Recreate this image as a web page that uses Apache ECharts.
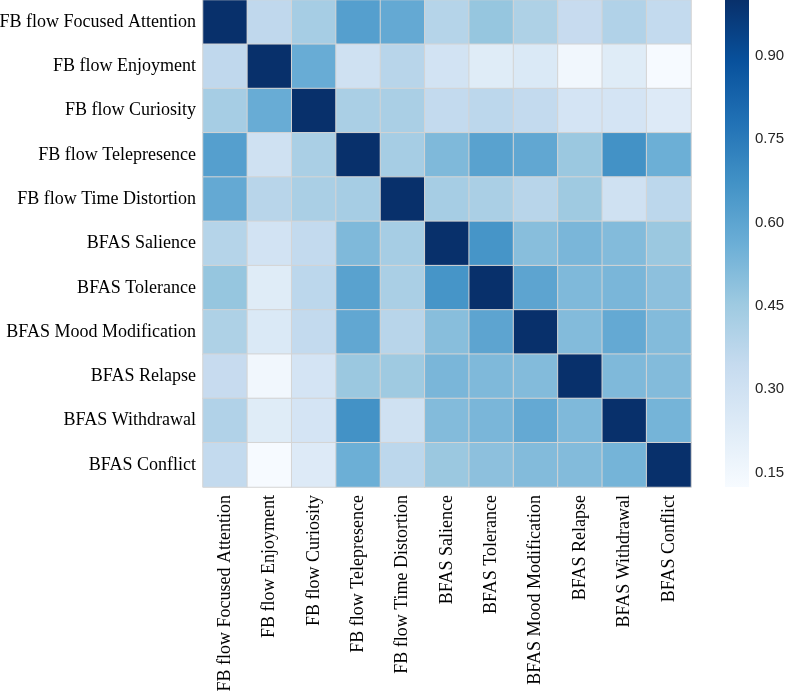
<!DOCTYPE html>
<html>
<head>
<meta charset="utf-8">
<script src="https://cdn.jsdelivr.net/npm/echarts@6/dist/echarts.min.js"></script>
<style>
html,body{margin:0;padding:0;background:#fff;}
#chart{width:785px;height:692px;}
</style>
</head>
<body>
<div id="chart"></div>
<script>
const categories = [
  'FB flow Focused Attention','FB flow Enjoyment','FB flow Curiosity','FB flow Telepresence',
  'FB flow Time Distortion','BFAS Salience','BFAS Tolerance','BFAS Mood Modification',
  'BFAS Relapse','BFAS Withdrawal','BFAS Conflict'
];
// correlation matrix rows
const rowFocused   = [1.00, 0.36, 0.43, 0.62, 0.58, 0.39, 0.47, 0.41, 0.34, 0.40, 0.35];
const rowEnjoy     = [0.36, 1.00, 0.57, 0.30, 0.38, 0.29, 0.23, 0.25, 0.15, 0.23, 0.13];
const rowCurio     = [0.43, 0.57, 1.00, 0.42, 0.42, 0.35, 0.37, 0.35, 0.28, 0.28, 0.24];
const rowTele      = [0.62, 0.30, 0.42, 1.00, 0.43, 0.52, 0.61, 0.59, 0.46, 0.67, 0.56];
const rowTime      = [0.58, 0.38, 0.42, 0.43, 1.00, 0.43, 0.42, 0.38, 0.45, 0.30, 0.37];
const rowSalience  = [0.39, 0.29, 0.35, 0.52, 0.43, 1.00, 0.66, 0.50, 0.53, 0.51, 0.46];
const rowTolerance = [0.47, 0.23, 0.37, 0.61, 0.42, 0.66, 1.00, 0.60, 0.52, 0.53, 0.49];
const rowMood      = [0.41, 0.25, 0.35, 0.59, 0.38, 0.50, 0.60, 1.00, 0.51, 0.58, 0.51];
const rowRelapse   = [0.34, 0.15, 0.28, 0.46, 0.45, 0.53, 0.52, 0.51, 1.00, 0.52, 0.51];
const rowWithdraw  = [0.40, 0.23, 0.28, 0.67, 0.30, 0.51, 0.53, 0.58, 0.52, 1.00, 0.54];
const rowConflict  = [0.35, 0.13, 0.24, 0.56, 0.37, 0.46, 0.49, 0.51, 0.51, 0.54, 1.00];
const matrix = [rowFocused,rowEnjoy,rowCurio,rowTele,rowTime,rowSalience,rowTolerance,rowMood,rowRelapse,rowWithdraw,rowConflict];

const colorbarTicks = [0.15, 0.30, 0.45, 0.60, 0.75, 0.90];
const vmin = 0.124, vmax = 1.0;

const blues = ['#f7fbff','#deebf7','#c6dbef','#9ecae1','#6baed6','#4292c6','#2171b5','#08519c','#08306b'];

const heatData = [];
matrix.forEach((row, r) => row.forEach((v, c) => heatData.push([c, r, v])));

const gradStops = blues.map((c, i) => ({offset: 1 - i / (blues.length - 1), color: c}));

const chart = echarts.init(document.getElementById('chart'));
chart.setOption({
  animation: false,
  backgroundColor: '#fff',
  grid: [
    {left: 203, top: 0, width: 488, height: 487, outerBoundsMode: 'none', containLabel: false},
    {left: 725, top: 0, width: 24, height: 487, outerBoundsMode: 'none', containLabel: false}
  ],
  xAxis: [
    {type: 'category', data: categories, gridIndex: 0,
     axisLine: {show: false}, axisTick: {show: false}, splitLine: {show: false},
     axisLabel: {rotate: 90, interval: 0, margin: 8, color: '#000',
       fontFamily: 'Liberation Serif', fontSize: 18}},
    {type: 'category', data: [''], gridIndex: 1, show: false}
  ],
  yAxis: [
    {type: 'category', data: categories, gridIndex: 0, inverse: true,
     axisLine: {show: false}, axisTick: {show: false}, splitLine: {show: false},
     axisLabel: {interval: 0, margin: 7, color: '#000',
       fontFamily: 'Liberation Serif', fontSize: 18}},
    {type: 'value', gridIndex: 1, position: 'right', min: vmin, max: vmax,
     axisLine: {show: false}, splitLine: {show: false},
     axisTick: {show: false, customValues: colorbarTicks},
     axisLabel: {customValues: colorbarTicks, margin: 6, color: '#262626',
       fontFamily: 'Liberation Sans', fontSize: 15,
       formatter: v => v.toFixed(2)}}
  ],
  visualMap: {
    show: false, min: vmin, max: vmax, seriesIndex: 0, dimension: 2,
    inRange: {color: blues}
  },
  series: [
    {type: 'heatmap', xAxisIndex: 0, yAxisIndex: 0, data: heatData,
     itemStyle: {borderColor: '#d4d4d4', borderWidth: 1}},
    {type: 'bar', xAxisIndex: 1, yAxisIndex: 1, stack: 'cb', data: [vmin],
     barWidth: '100%', itemStyle: {color: 'rgba(0,0,0,0)'}, silent: true},
    {type: 'bar', xAxisIndex: 1, yAxisIndex: 1, stack: 'cb', data: [vmax - vmin],
     barWidth: '100%', silent: true,
     itemStyle: {color: new echarts.graphic.LinearGradient(0, 0, 0, 1, gradStops)}}
  ]
});
</script>
</body>
</html>
